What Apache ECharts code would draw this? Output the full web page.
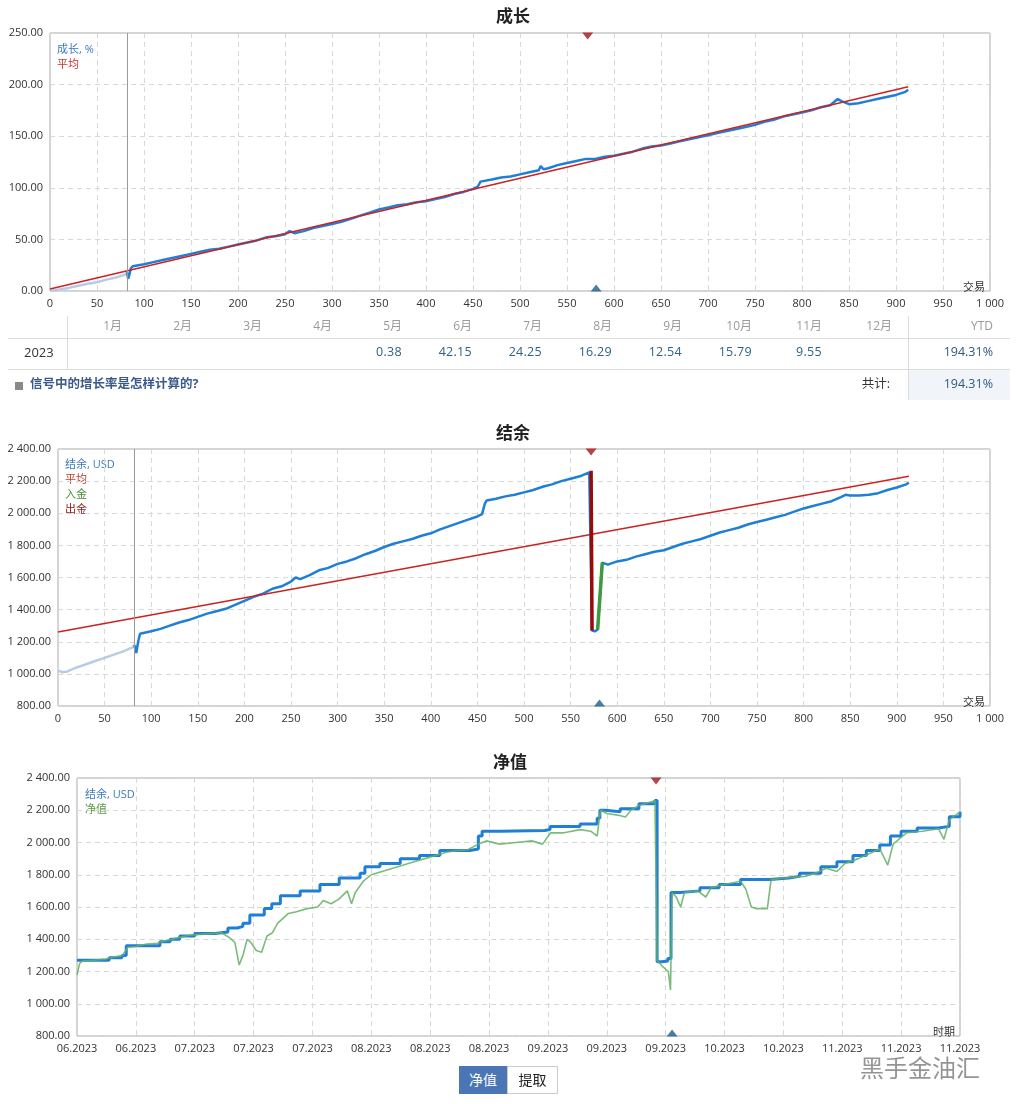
<!DOCTYPE html>
<html><head><meta charset="utf-8">
<script src="https://cdn.jsdelivr.net/npm/echarts@6/dist/echarts.min.js"></script>
<style>
body{margin:0;background:#fff;font-family:"Open Sans","Noto Sans CJK SC",sans-serif;}
#c{position:absolute;left:0;top:0;width:1017px;height:1104px;}
.t{position:absolute;white-space:nowrap;line-height:1;}
.ln{position:absolute;background:#dcdcdc;}
</style></head><body>
<div id="c"></div>
<div id="tbl"></div>
<script>
// ---------- DATA ----------
// Chart 1: growth %
const growthPreX = [0,10,20,30,40,50,60,70,80,82];
const growthPreY = [0,1.5,3,5,7,8.5,11,13,16,18];
const growthX = [82,83,84,86,88,90,100,110,120,130,140,150,160,170,180,190,200,210,220,230,240,250,255,260,270,280,290,300,310,320,330,340,350,360,370,380,390,400,410,420,430,440,450,455,458,460,470,480,490,500,510,520,522,525,530,540,550,560,570,575,580,590,600,610,620,630,640,650,660,670,680,690,700,710,720,730,740,750,760,770,780,790,800,810,820,830,838,842,850,860,870,880,890,900,910,913];
const growthY = [18,12,14,22,24,25,26,28,30,32,34,36,38,40,41,43,45,47,49,52,53,55,58,56,58,61,63,65,67,70,73,76,79,81,83,84,86,87,89,91,94,96,99,101,106,107,108,110,111,113,115,117,121,118,119,122,124,126,128,128,128,130,131,133,135,138,140,141,143,145,147,149,151,153,155,157,159,161,164,166,169,171,173,175,178,180,186,184,181,182,184,186,188,190,193,195];
const growthAvgX = [0,913];
const growthAvgY = [2,198];
const growthMarkTop = [572,250];
const growthMarkBottom = [581,0];
const startLine = 82;

// Monthly table
const months = ['1月','2月','3月','4月','5月','6月','7月','8月','9月','10月','11月','12月'];
const monthValues = ['','','','','0.38','42.15','24.25','16.29','12.54','15.79','9.55',''];
const tableYear = '2023';
const ytdValue = '194.31%';
const totalValue = '194.31%';

// Chart 2: balance USD
const balPreX = [0,5,10,20,30,40,50,60,70,80,82];
const balPreY = [1020,1010,1015,1040,1060,1080,1100,1120,1140,1165,1180];
const balX = [82,84,86,88,90,100,110,120,130,140,150,160,170,180,190,200,210,220,230,240,250,255,260,270,280,290,300,310,320,330,340,350,360,370,380,390,400,410,420,430,440,450,455,458,460,470,480,490,500,510,520,530,540,550,560,570,572,573,576,579,584,590,600,610,620,630,640,650,660,670,680,690,700,710,720,730,740,750,760,770,780,790,800,810,820,830,840,845,850,860,870,880,890,900,910,913];
const balY = [1180,1130,1200,1250,1250,1265,1280,1300,1320,1335,1355,1375,1390,1405,1430,1455,1480,1500,1530,1545,1575,1600,1590,1615,1645,1660,1685,1700,1720,1745,1765,1790,1810,1825,1840,1860,1875,1900,1920,1940,1960,1980,1995,2060,2080,2090,2105,2115,2130,2145,2165,2180,2200,2215,2230,2255,2265,1270,1265,1275,1693,1680,1700,1710,1730,1745,1760,1770,1790,1810,1825,1840,1860,1880,1895,1910,1930,1945,1960,1975,1990,2010,2030,2045,2060,2075,2100,2115,2110,2110,2115,2125,2145,2160,2180,2190];
const withdrawX = [572,573];
const withdrawY = [2265,1270];
const depositX = [579,584];
const depositY = [1275,1693];
const balAvgX = [0,913];
const balAvgY = [1260,2230];
const balMarkTop = [572,2400];
const balMarkBottom = [581,800];

// Chart 3: balance & equity over time (days from first label)
const dateLabels = ['06.2023','06.2023','07.2023','07.2023','07.2023','08.2023','08.2023','08.2023','09.2023','09.2023','09.2023','10.2023','10.2023','11.2023','11.2023','11.2023'];
const eqBalX = [0,6,8.4,9.2,15.5,17.4,19.2,22,25.8,28.2,30,31,32.3,35,36.4,38,41.7,45.4,49,52.9,53.8,56.6,60.4,64,67.8,73.4,75,75.7,79,87.4,88.4,94,97.2,97.7,98.7,101.5,105,108,108.4,109.3,110.4,111,112.7,116.4,120,124,129.5,133,135,139,142,145,147.5,150,152,154,157,161,163,165];
const eqBalY = [1270,1285,1300,1360,1385,1400,1420,1435,1445,1470,1480,1500,1550,1590,1620,1670,1700,1740,1780,1810,1850,1870,1900,1920,1950,1960,2040,2070,2075,2080,2100,2115,2150,2200,2190,2210,2240,2260,1260,1265,1280,1690,1700,1720,1740,1770,1780,1790,1810,1850,1880,1920,1950,1985,2040,2070,2090,2100,2160,2190];
const equityX = [0,0.5,1,3,5,7,8.5,9.5,11,13,15,17,19,21,23,25,27,28.5,29.5,30.3,31,31.8,32.5,33.5,34.5,35.5,36.5,37.5,38.5,39.5,41,43,45,46,47.5,49,50.5,51.3,52,53.5,55,57,59,61,63,65,67,69,71,73,75,76.5,79,82,85,87,88.5,91,94,96,97.2,97.8,99,101,102.5,103.5,105,107,108,108.4,109.5,110.5,110.9,111.2,112,112.8,113.5,116,117.5,118.5,121,124,125,126,127,129,129.7,132,134,136,138,140,142,143.5,146,148,150,151.5,152.5,155,158,161,162,163,165];
const equityY = [1180,1250,1265,1270,1275,1290,1300,1350,1355,1370,1375,1395,1410,1425,1430,1435,1440,1410,1380,1240,1300,1400,1380,1330,1320,1420,1440,1500,1530,1560,1570,1590,1600,1640,1620,1650,1700,1620,1690,1760,1800,1820,1840,1860,1880,1900,1920,1940,1950,1955,1990,2010,1990,2000,2010,1990,2060,2060,2080,2070,2040,2200,2180,2170,2158,2200,2230,2250,2260,1270,1228,1200,1085,1690,1660,1600,1690,1700,1662,1720,1740,1760,1710,1600,1590,1590,1770,1780,1785,1790,1810,1840,1820,1870,1900,1930,1960,1860,1990,2060,2070,2085,2020,2140,2190];
const eqMarkTop = [108.2,2400];
const eqMarkBottom = [111.2,800];

// ---------- HELPERS ----------
const pairs = (xs, ys) => xs.map((x, i) => [x, ys[i]]);
const fmtMoney = v => { const s = Number(v).toFixed(2); const p = s.split('.'); return p[0].replace(/\B(?=(\d{3})+(?!\d))/g, ' ') + '.' + p[1]; };
const fmtInt = v => String(v).replace(/\B(?=(\d{3})+(?!\d))/g, ' ');
const FONT = '"Open Sans","Noto Sans CJK SC",sans-serif';
const BLUE = '#1f7fd6', LIGHT = '#b8cde3', RED = '#cc2222';
const lbl = {fontSize: 11, color: '#333', fontFamily: FONT};
const split = {show: true, lineStyle: {color: '#d8d8d8', type: [5, 4]}};

function xAx(gi, min, max, interval, fmt) {
  return {gridIndex: gi, type: 'value', min, max, interval,
    axisLine: {show: false}, axisTick: {show: false}, splitLine: split,
    axisLabel: Object.assign({formatter: fmt, margin: 7, showMaxLabel: true, showMinLabel: true}, lbl)};
}
function yAx(gi, min, max, interval, fmt) {
  return {gridIndex: gi, type: 'value', min, max, interval,
    axisLine: {show: false}, axisTick: {show: false}, splitLine: split,
    axisLabel: Object.assign({formatter: fmt, margin: 7}, lbl)};
}
function line(gi, data, color, width, extra) {
  return Object.assign({type: 'line', xAxisIndex: gi, yAxisIndex: gi, data, showSymbol: false, symbol: 'none',
    lineStyle: {color, width}, itemStyle: {color}, silent: true, animation: false}, extra || {});
}
function tri(gi, pt, color, down) {
  return {type: 'scatter', xAxisIndex: gi, yAxisIndex: gi, data: [pt], symbol: 'triangle',
    symbolSize: [11, 7], symbolRotate: down ? 180 : 0, symbolOffset: [0, down ? 3 : -3],
    itemStyle: {color}, silent: true, animation: false, z: 10};
}
const vline = (x) => ({silent: true, symbol: 'none', label: {show: false},
  lineStyle: {color: '#9a9a9a', width: 1, type: 'solid'}, data: [{xAxis: x}], animation: false});
function txt(x, y, text, color, size, weight, align) {
  return {type: 'text', left: x, top: y, style: {text, fill: color, font: (weight || 'normal') + ' ' + (size || 11) + 'px ' + FONT, textAlign: align || 'left', textVerticalAlign: 'middle'}, silent: true};
}

const chart = echarts.init(document.getElementById('c'));
chart.setOption({
  animation: false,
  backgroundColor: '#fff',
  title: [
    {text: '成长', left: 508, top: 4, textAlign: 'center', textStyle: {fontSize: 17, fontWeight: 'bold', color: '#222', fontFamily: FONT}},
    {text: '结余', left: 508, top: 421, textAlign: 'center', textStyle: {fontSize: 17, fontWeight: 'bold', color: '#222', fontFamily: FONT}},
    {text: '净值', left: 505, top: 750, textAlign: 'center', textStyle: {fontSize: 17, fontWeight: 'bold', color: '#222', fontFamily: FONT}}
  ],
  grid: [
    {left: 50, top: 33, width: 940, height: 258, show: true, borderColor: '#a8a8a8', borderWidth: 1, backgroundColor: '#fff'},
    {left: 58, top: 449, width: 932, height: 257, show: true, borderColor: '#a8a8a8', borderWidth: 1, backgroundColor: '#fff'},
    {left: 77, top: 778, width: 883, height: 258, show: true, borderColor: '#a8a8a8', borderWidth: 1, backgroundColor: '#fff'}
  ],
  xAxis: [
    xAx(0, 0, 1000, 50, fmtInt),
    xAx(1, 0, 1000, 50, fmtInt),
    xAx(2, 0, 165, 11, v => dateLabels[Math.round(v / 11)] || '')
  ],
  yAxis: [
    yAx(0, 0, 250, 50, v => v.toFixed(2)),
    yAx(1, 800, 2400, 200, fmtMoney),
    yAx(2, 800, 2400, 200, fmtMoney)
  ],
  series: [
    line(0, pairs(growthPreX, growthPreY), LIGHT, 2.5, {markLine: vline(startLine)}),
    line(0, pairs(growthX, growthY), BLUE, 2.5),
    line(0, pairs(growthAvgX, growthAvgY), RED, 1.5),
    tri(0, growthMarkTop, '#a81414', true),
    tri(0, growthMarkBottom, '#1b5e8c', false),

    line(1, pairs(balPreX, balPreY), LIGHT, 2.5, {markLine: vline(startLine)}),
    line(1, pairs(balX, balY), BLUE, 2.5),
    line(1, pairs(balAvgX, balAvgY), RED, 1.5),
    line(1, pairs(withdrawX, withdrawY), '#9a0a0a', 3.5, {z: 5}),
    line(1, pairs(depositX, depositY), '#3f9a3f', 3.5, {z: 5}),
    tri(1, balMarkTop, '#a81414', true),
    tri(1, balMarkBottom, '#1b5e8c', false),

    line(2, pairs(eqBalX, eqBalY), BLUE, 3, {step: 'end'}),
    line(2, pairs(equityX, equityY), '#63b063', 1.6, {lineStyle: {color: '#63b063', width: 1.6, opacity: 0.85}}),
    tri(2, eqMarkTop, '#a81414', true),
    tri(2, eqMarkBottom, '#1b5e8c', false)
  ],
  graphic: [
    txt(57, 44, '成长, %', '#3b7bbf'),
    txt(57, 59, '平均', '#c0392b'),
    txt(963, 282, '交易', '#333'),
    txt(65, 459, '结余, USD', '#3b7bbf'),
    txt(65, 474, '平均', '#c0392b'),
    txt(65, 489, '入金', '#4b8b3b'),
    txt(65, 504, '出金', '#8b1a1a'),
    txt(963, 697, '交易', '#333'),
    txt(85, 789, '结余, USD', '#3b7bbf'),
    txt(85, 804, '净值', '#5a9a4a'),
    txt(933, 1027, '时期', '#333'),
    txt(860, 1058, '黑手金油汇', 'rgba(60,60,60,0.55)', 24, 'normal')
  ]
});

// ---------- TABLE (HTML) ----------
const tbl = document.getElementById('tbl');
function add(html, css) { const d = document.createElement('div'); d.className = 't'; d.innerHTML = html; Object.assign(d.style, css); tbl.appendChild(d); return d; }
function ln(css) { const d = document.createElement('div'); d.className = 'ln'; Object.assign(d.style, css); tbl.appendChild(d); }
ln({left: '8px', top: '338px', width: '1002px', height: '1px'});
ln({left: '8px', top: '369px', width: '1002px', height: '1px'});
ln({left: '67px', top: '316px', width: '1px', height: '53px'});
ln({left: '908px', top: '316px', width: '1px', height: '84px'});
add('', {left: '909px', top: '370px', width: '101px', height: '30px', background: '#f1f5fa'});
months.forEach((m, i) => {
  const right = 1017 - (122 + i * 70);
  add(m, {right: right + 'px', top: '320px', fontSize: '12px', color: '#9a9a9a'});
  if (monthValues[i]) add(monthValues[i], {right: right + 'px', top: '346px', fontSize: '12.5px', color: '#2d6385', letterSpacing: '0.3px'});
});
add('YTD', {right: (1017 - 993) + 'px', top: '320px', fontSize: '12px', color: '#9a9a9a'});
add(tableYear, {left: '24px', top: '346px', fontSize: '13px', color: '#333'});
add(ytdValue, {right: (1017 - 993) + 'px', top: '346px', fontSize: '12.5px', color: '#2d5a80'});
add('共计:', {right: (1017 - 890) + 'px', top: '378px', fontSize: '12.5px', color: '#333'});
add(totalValue, {right: (1017 - 993) + 'px', top: '378px', fontSize: '12.5px', color: '#2d5a80'});
add('', {left: '15px', top: '382px', width: '8px', height: '8px', background: '#8a8a8a'});
add('信号中的增长率是怎样计算的?', {left: '30px', top: '378px', fontSize: '12.5px', color: '#3b5a8c', fontWeight: 'bold'});
// buttons
add('净值', {left: '459px', top: '1066px', width: '48px', height: '28px', lineHeight: '28px', textAlign: 'center', background: '#4a76b6', color: '#fff', fontSize: '14px'});
add('提取', {left: '507px', top: '1066px', width: '49px', height: '26px', lineHeight: '26px', textAlign: 'center', border: '1px solid #ccc', color: '#222', fontSize: '14px'});
</script>
</body></html>
